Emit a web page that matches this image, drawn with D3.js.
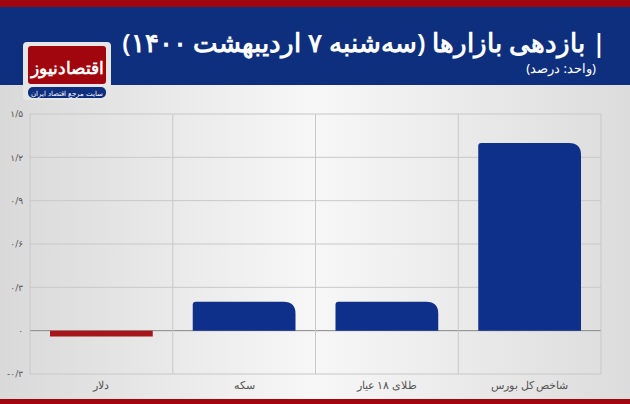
<!DOCTYPE html>
<html><head><meta charset="utf-8">
<script src="https://cdn.jsdelivr.net/npm/d3@7"></script>
<style>body{margin:0}svg{display:block}</style>
</head><body>
<svg id="chart" width="630" height="404"></svg>
<script>
const categories = ["دلار", "سکه", "طلای ۱۸ عیار", "شاخص کل بورس"]
const values = [-0.04, 0.2, 0.2, 1.3]
const ticks = [-0.3, 0, 0.3, 0.6, 0.9, 1.2, 1.5]
const tickLabels = ["-۰/۳", "۰", "۰/۳", "۰/۶", "۰/۹", "۱/۲", "۱/۵"]

const svg = d3.select("#chart")
const defs = svg.append("defs")
const g1 = defs.append("linearGradient").attr("id", "bg").attr("x1", 0).attr("x2", 1)
g1.append("stop").attr("offset", 0).attr("stop-color", "#d9d9d9")
g1.append("stop").attr("offset", 0.5).attr("stop-color", "#f7f7f7")
g1.append("stop").attr("offset", 1).attr("stop-color", "#dcdcdc")

svg.append("rect").attr("width", 630).attr("height", 404).attr("fill", "url(#bg)")
svg.append("rect").attr("width", 630).attr("height", 7).attr("fill", "#a1060e")
svg.append("rect").attr("y", 7).attr("width", 630).attr("height", 78).attr("fill", "#0e2f7e")
svg.append("rect").attr("y", 399).attr("width", 630).attr("height", 5).attr("fill", "#a1060e")

svg.append("text").attr("x", 606).attr("y", 52).attr("text-anchor", "start")
  .attr("font-family", "Noto Sans").attr("font-weight", 600).attr("font-size", 26).attr("fill", "#fff")
  .attr("direction", "rtl").text("| بازدهی بازارها (سه‌شنبه ۷ اردیبهشت ۱۴۰۰)")
svg.append("text").attr("x", 596).attr("y", 73).attr("text-anchor", "start")
  .attr("font-family", "Noto Sans").attr("font-size", 13).attr("fill", "#fff")
  .attr("direction", "rtl").text("(واحد: درصد)")

// logo
const logo = svg.append("g")
logo.append("rect").attr("x", 23).attr("y", 42).attr("width", 88).attr("height", 58).attr("rx", 4).attr("fill", "#e6e6e6")
logo.append("rect").attr("x", 28).attr("y", 46).attr("width", 78).attr("height", 38).attr("rx", 3).attr("fill", "#a1060e")
logo.append("text").attr("x", 67).attr("y", 74).attr("text-anchor", "middle").attr("font-family", "Noto Sans")
  .attr("font-weight", "bold").attr("font-size", 17).attr("fill", "#fff").text("اقتصادنیوز")
logo.append("rect").attr("x", 28).attr("y", 87).attr("width", 78).attr("height", 11).attr("rx", 5).attr("fill", "#0e2f7e")
logo.append("text").attr("x", 67).attr("y", 95.5).attr("text-anchor", "middle").attr("font-family", "Noto Sans")
  .attr("font-size", 6.5).attr("fill", "#fff").text("سایت مرجع اقتصاد ایران")

const x = d3.scaleBand().domain(categories).range([30, 601]).paddingInner(0).paddingOuter(0)
const y = d3.scaleLinear().domain([-0.3, 1.5]).range([374, 114])

const grid = svg.append("g")
grid.selectAll("line.h").data(ticks).join("line")
  .attr("x1", 30).attr("x2", 601).attr("y1", d => y(d)).attr("y2", d => y(d))
  .attr("stroke", d => d === 0 ? "#888" : "#c8c8c8").attr("stroke-width", 1)
grid.selectAll("line.v").data([30, ...categories.map(c => x(c) + x.bandwidth())]).join("line")
  .attr("x1", d => d).attr("x2", d => d).attr("y1", 114).attr("y2", 374)
  .attr("stroke", "#c8c8c8")

const yAxis = d3.axisLeft(y).tickValues(ticks).tickSize(0).tickFormat((d, i) => tickLabels[i])
svg.append("g").attr("transform", "translate(26,0)").call(yAxis)
  .call(a => a.select(".domain").remove())
  .selectAll("text").attr("font-family", "DejaVu Sans").attr("font-size", 9).attr("fill", "#555")

const xAxis = d3.axisBottom(x).tickSize(0)
svg.append("g").attr("transform", "translate(0,376)").call(xAxis)
  .call(a => a.select(".domain").remove())
  .selectAll("text").attr("font-family", "Noto Sans").attr("font-size", 11).attr("fill", "#555").attr("dy", "0.9em")

const pad = 20
function barPath(d) {
  const x0 = x(d.c) + pad, x1 = x(d.c) + x.bandwidth() - pad
  const y0 = y(0), yv = y(d.v)
  if (d.v < 0) return `M${x0},${y0}L${x1},${y0}L${x1},${yv}L${x0},${yv}Z`
  const r = 12, rl = 3
  return `M${x0},${y0}L${x0},${yv + rl}Q${x0},${yv} ${x0 + rl},${yv}L${x1 - r},${yv}Q${x1},${yv} ${x1},${yv + r}L${x1},${y0}Z`
}
svg.append("g").selectAll("path").data(categories.map((c, i) => ({c, v: values[i]}))).join("path")
  .attr("d", barPath).attr("fill", d => d.v < 0 ? "#a8141b" : "#0e2f8a")
</script>
</body></html>
